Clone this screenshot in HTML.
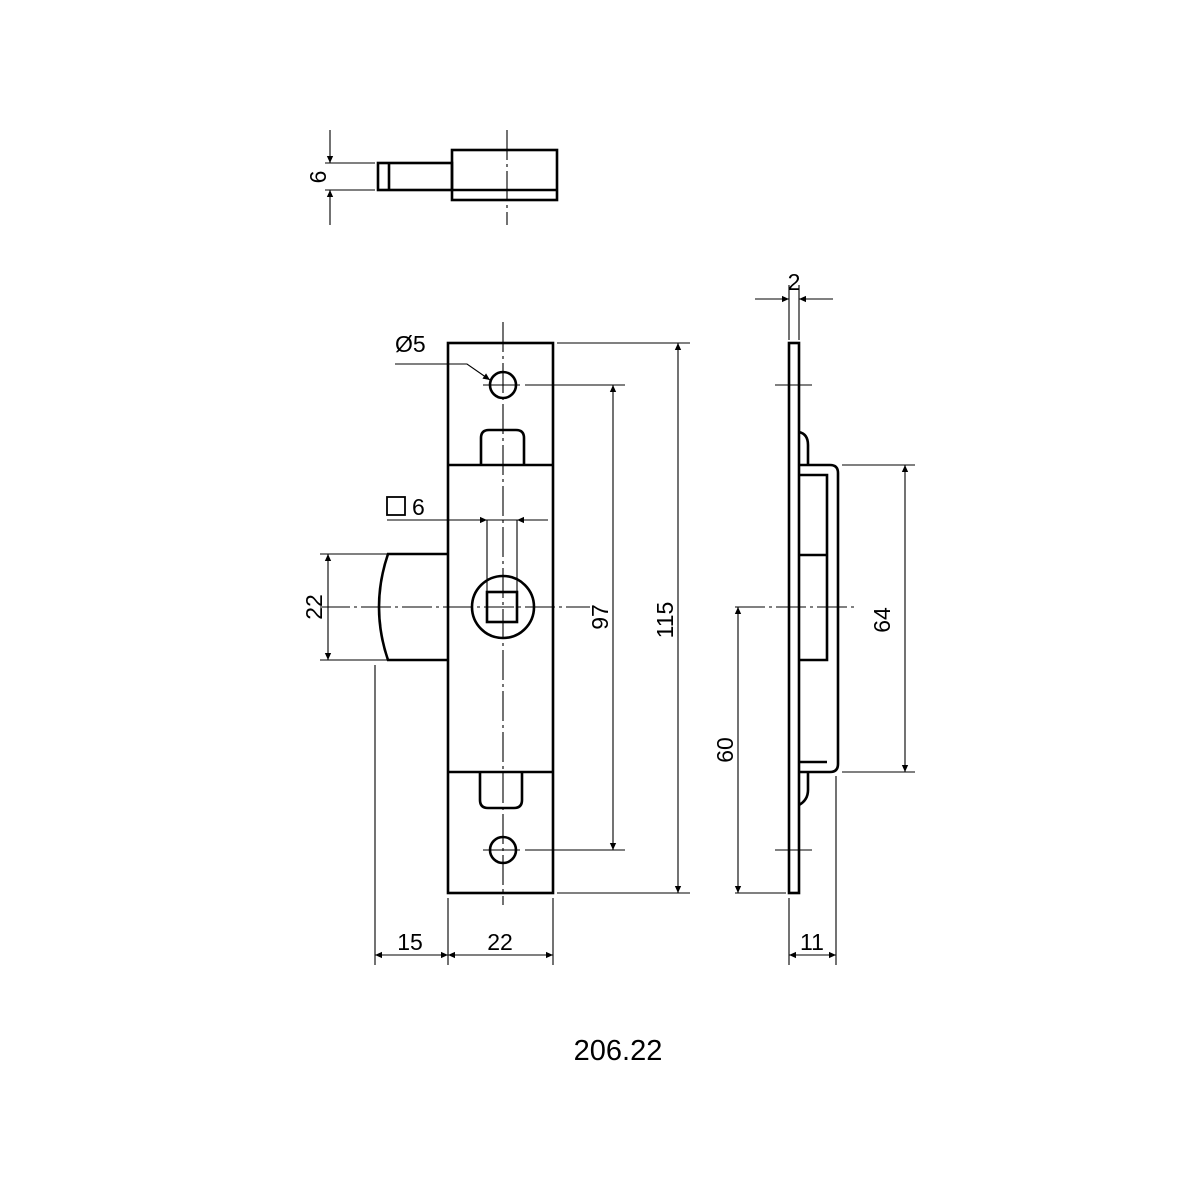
<!DOCTYPE html>
<html><head><style>body{margin:0;background:#fff}svg{display:block}</style></head>
<body>
<svg width="1200" height="1200" viewBox="0 0 1200 1200" xmlns="http://www.w3.org/2000/svg" font-family="Liberation Sans, sans-serif">
<defs>
<marker id="a" viewBox="0 0 10 10" refX="10" refY="5" markerWidth="16" markerHeight="7" markerUnits="userSpaceOnUse" orient="auto-start-reverse"><path d="M0,0.5 L10,5 L0,9.5 Z" fill="#000"/></marker>
</defs>
<g fill="none" stroke="#000">
<!-- top view -->
<g stroke-width="2.6">
<rect x="378" y="163" width="74" height="27"/>
<line x1="389" y1="163" x2="389" y2="190"/>
<rect x="452" y="150" width="105" height="50"/>
<line x1="452" y1="190" x2="557" y2="190"/>
</g>
<g stroke-width="1.1">
<line x1="507" y1="130" x2="507" y2="225" stroke-dasharray="30,4,3,4"/>
<line x1="325" y1="163" x2="375" y2="163"/>
<line x1="325" y1="190" x2="375" y2="190"/>
<line x1="330" y1="130" x2="330" y2="163" marker-end="url(#a)"/>
<line x1="330" y1="225" x2="330" y2="190" marker-end="url(#a)"/>
</g>
<!-- main view -->
<g stroke-width="2.6">
<rect x="448" y="343" width="105" height="550"/>
<line x1="448" y1="465" x2="553" y2="465"/>
<line x1="448" y1="772" x2="553" y2="772"/>
<circle cx="503" cy="385" r="13"/>
<circle cx="503" cy="850" r="13"/>
<path d="M481,465 V438 Q481,430 489,430 H516 Q524,430 524,438 V465"/>
<path d="M480,772 V800 Q480,808 488,808 H514 Q522,808 522,800 V772"/>
<circle cx="503" cy="607" r="31"/>
<rect x="487" y="592" width="30" height="30"/>
<path d="M448,554 H388 Q370,607 388,660 H448"/>
</g>
<g stroke-width="1.1">
<line x1="503" y1="322" x2="503" y2="905" stroke-dasharray="30,4,3,4"/>
<line x1="320" y1="607" x2="590" y2="607" stroke-dasharray="30,4,3,4"/>
<line x1="483" y1="385" x2="520" y2="385"/>
<line x1="483" y1="850" x2="520" y2="850"/>
<line x1="525" y1="385" x2="625" y2="385"/>
<line x1="525" y1="850" x2="625" y2="850"/>
<line x1="557" y1="343" x2="690" y2="343"/>
<line x1="557" y1="893" x2="690" y2="893"/>
<line x1="613" y1="385" x2="613" y2="850" marker-start="url(#a)" marker-end="url(#a)"/>
<line x1="678" y1="343" x2="678" y2="893" marker-start="url(#a)" marker-end="url(#a)"/>
<line x1="320" y1="554" x2="440" y2="554"/>
<line x1="320" y1="660" x2="440" y2="660"/>
<line x1="328" y1="554" x2="328" y2="660" marker-start="url(#a)" marker-end="url(#a)"/>
<line x1="387" y1="520" x2="548" y2="520"/>
<line x1="468" y1="520" x2="487" y2="520" marker-end="url(#a)"/>
<line x1="536" y1="520" x2="517" y2="520" marker-end="url(#a)"/>
<line x1="487" y1="520" x2="487" y2="592"/>
<line x1="517" y1="520" x2="517" y2="592"/>
<rect x="387" y="497" width="18" height="18" stroke-width="1.8"/>
<path d="M395,364 H467 L490,380" marker-end="url(#a)"/>
<line x1="375" y1="665" x2="375" y2="965"/>
<line x1="448" y1="898" x2="448" y2="965"/>
<line x1="553" y1="898" x2="553" y2="965"/>
<line x1="375" y1="955" x2="448" y2="955" marker-start="url(#a)" marker-end="url(#a)"/>
<line x1="448" y1="955" x2="553" y2="955" marker-start="url(#a)" marker-end="url(#a)"/>
</g>
<!-- side view -->
<g stroke-width="2.6">
<rect x="789" y="343" width="10" height="550"/>
<path d="M799,432 Q808,434 808,445 V465"/>
<path d="M799,805 Q808,800 808,790 V772"/>
<path d="M799,465 H830 Q838,465 838,473 V764 Q838,772 830,772 H799"/>
<path d="M799,475 H827 V660 H799"/>
<line x1="799" y1="555" x2="827" y2="555"/>
<line x1="799" y1="762" x2="827" y2="762"/>
</g>
<g stroke-width="1.1">
<line x1="775" y1="385" x2="812" y2="385"/>
<line x1="775" y1="850" x2="812" y2="850"/>
<line x1="735" y1="607" x2="855" y2="607" stroke-dasharray="30,4,3,4"/>
<line x1="789" y1="285" x2="789" y2="340"/>
<line x1="799" y1="285" x2="799" y2="340"/>
<line x1="755" y1="299" x2="789" y2="299" marker-end="url(#a)"/>
<line x1="833" y1="299" x2="799" y2="299" marker-end="url(#a)"/>
<line x1="842" y1="465" x2="915" y2="465"/>
<line x1="842" y1="772" x2="915" y2="772"/>
<line x1="905" y1="465" x2="905" y2="772" marker-start="url(#a)" marker-end="url(#a)"/>
<line x1="735" y1="893" x2="786" y2="893"/>
<line x1="738" y1="607" x2="738" y2="893" marker-start="url(#a)" marker-end="url(#a)"/>
<line x1="789" y1="898" x2="789" y2="965"/>
<line x1="836" y1="776" x2="836" y2="965"/>
<line x1="789" y1="955" x2="836" y2="955" marker-start="url(#a)" marker-end="url(#a)"/>
</g>
</g>
<g fill="#000" font-size="23">
<text x="318" y="177" text-anchor="middle" transform="rotate(-90 318 177)" dominant-baseline="central">6</text>
<text x="395" y="352">Ø5</text>
<text x="412" y="515">6</text>
<text x="314" y="607" text-anchor="middle" transform="rotate(-90 314 607)" dominant-baseline="central">22</text>
<text x="600" y="617" text-anchor="middle" transform="rotate(-90 600 617)" dominant-baseline="central">97</text>
<text x="665" y="620" text-anchor="middle" transform="rotate(-90 665 620)" dominant-baseline="central">115</text>
<text x="410" y="950" text-anchor="middle">15</text>
<text x="500" y="950" text-anchor="middle">22</text>
<text x="794" y="290" text-anchor="middle">2</text>
<text x="812" y="950" text-anchor="middle">11</text>
<text x="882" y="620" text-anchor="middle" transform="rotate(-90 882 620)" dominant-baseline="central">64</text>
<text x="725" y="750" text-anchor="middle" transform="rotate(-90 725 750)" dominant-baseline="central">60</text>
<text x="618" y="1060" text-anchor="middle" font-size="29">206.22</text>
</g>
</svg>
</body></html>
